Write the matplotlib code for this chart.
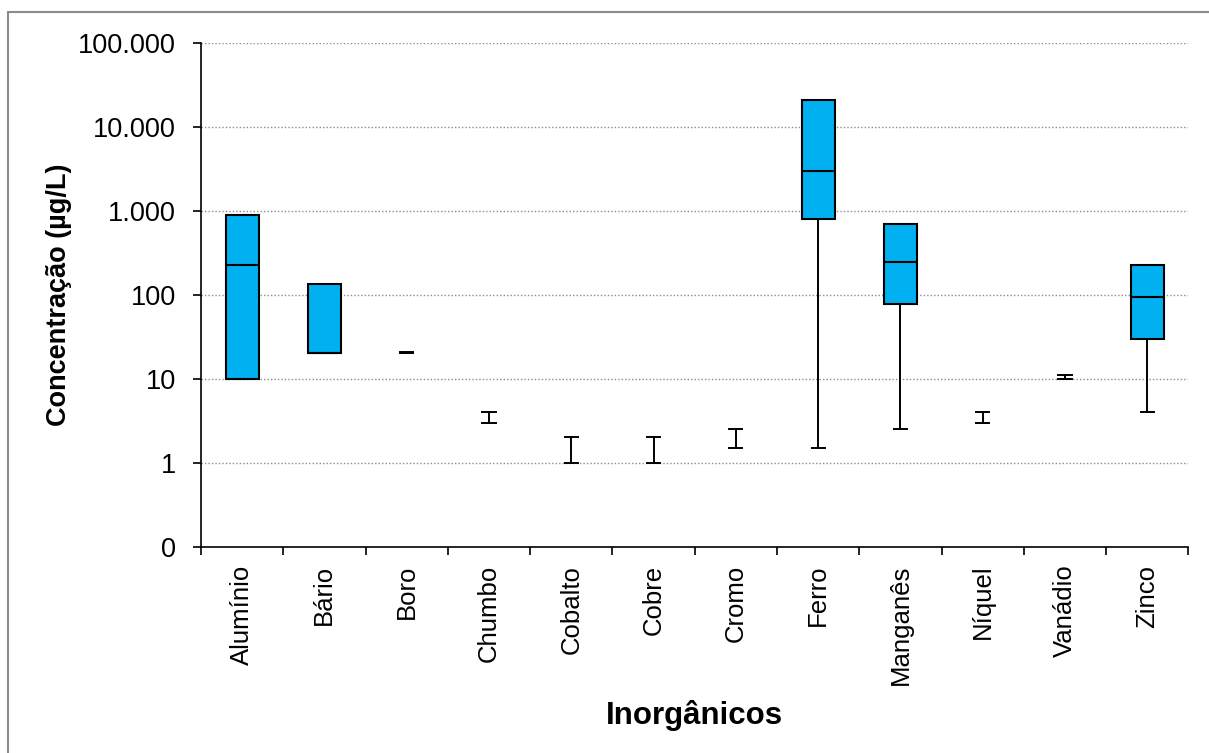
import matplotlib.pyplot as plt
import matplotlib.ticker as mticker
from matplotlib.patches import Rectangle

plt.rcParams["font.family"] = ["Liberation Sans", "DejaVu Sans"]

elements = ["Alumínio", "Bário", "Boro", "Chumbo", "Cobalto", "Cobre",
            "Cromo", "Ferro", "Manganês", "Níquel", "Vanádio", "Zinco"]

# elements drawn with a box (min, q1, median, q3, max) in µg/L
box_names = ["Alumínio", "Bário", "Ferro", "Manganês", "Zinco"]
box_min = [10, 20, 1.5, 2.5, 4]
box_q1 = [10, 20, 800, 78, 30]
box_med = [224, 20, 3000, 243, 93]
box_q3 = [900, 135, 21000, 690, 226]
box_max = [900, 135, 21000, 690, 226]

# elements with only a min/max range
range_names = ["Boro", "Chumbo", "Cobalto", "Cobre", "Cromo", "Níquel", "Vanádio"]
range_min = [20, 3, 1, 1, 1.5, 3, 10]
range_max = [21, 4, 2, 2, 2.5, 4, 11]

y_ticks = [0.1, 1, 10, 100, 1000, 10000, 100000]
y_labels = ["0", "1", "10", "100", "1.000", "10.000", "100.000"]


def make_stats(names, lo, q1, med, q3, hi):
    return [
        {"label": n, "whislo": a, "q1": b, "med": c, "q3": d, "whishi": e, "fliers": []}
        for n, a, b, c, d, e in zip(names, lo, q1, med, q3, hi)
    ]


fig = plt.figure(figsize=(12.09, 7.53), dpi=100)
ax = fig.add_axes([0.1662, 0.274, 0.8168, 0.6693])

line = dict(color="black", linewidth=1.4)
box_pos = [elements.index(n) for n in box_names]
ax.bxp(
    make_stats(box_names, box_min, box_q1, box_med, box_q3, box_max),
    positions=box_pos, widths=0.4, capwidths=0.16, patch_artist=True,
    boxprops=dict(facecolor="#00B0F0", edgecolor="black", linewidth=1.5),
    whiskerprops=line, capprops=line,
    medianprops=dict(color="black", linewidth=1.5),
    showfliers=False, manage_ticks=False, zorder=3,
)

range_pos = [elements.index(n) for n in range_names]
mids = [(a * b) ** 0.5 for a, b in zip(range_min, range_max)]
ax.bxp(
    make_stats(range_names, range_min, mids, mids, mids, range_max),
    positions=range_pos, widths=0.16, capwidths=0.16, showbox=False,
    whiskerprops=line, capprops=line,
    medianprops=dict(linewidth=0),
    showfliers=False, manage_ticks=False, zorder=3,
)

ax.set_yscale("log")
ax.set_ylim(0.1, 100000)
ax.yaxis.set_major_locator(mticker.FixedLocator(y_ticks))
ax.yaxis.set_major_formatter(mticker.FixedFormatter(y_labels))
ax.yaxis.set_minor_locator(mticker.NullLocator())
for v in y_ticks[1:]:
    ax.axhline(v, color="#8c8c8c", linewidth=1.0, linestyle=(0, (1, 1.5)), zorder=1)

ax.set_xlim(-0.5, len(elements) - 0.5)
ax.set_xticks(range(len(elements)))
ax.set_xticklabels(elements, rotation=90)
ax.set_xticks([i - 0.5 for i in range(len(elements) + 1)], minor=True)
ax.tick_params(axis="x", which="major", length=0, pad=13, labelsize=18.5)
ax.tick_params(axis="x", which="minor", length=6, width=1.2, direction="out")
ax.tick_params(axis="y", length=6, width=1.2, direction="out", pad=12, labelsize=19.5)

for side in ("top", "right"):
    ax.spines[side].set_visible(False)
for side in ("left", "bottom"):
    ax.spines[side].set_linewidth(1.2)

ax.set_ylabel("Concentração (µg/L)", fontsize=19.5, fontweight="bold", labelpad=4.5)
ax.set_xlabel("Inorgânicos", fontsize=22.5, fontweight="bold", labelpad=11)

# chart frame, open at the right and bottom edges
fig.add_artist(Rectangle((8 / 1209, -0.2), 1.3, 1 - 12 / 753 + 0.2,
                         transform=fig.transFigure, fill=False,
                         edgecolor="#8c8c8c", linewidth=1.5))

fig.savefig("out.png", dpi=100)
